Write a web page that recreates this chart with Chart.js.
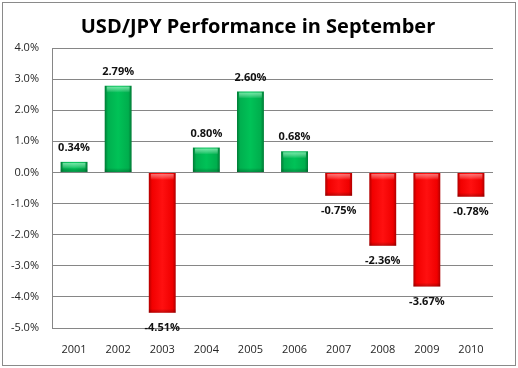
<!DOCTYPE html>
<html><head><meta charset="utf-8">
<script src="https://cdn.jsdelivr.net/npm/chart.js@4"></script>
<style>html,body{margin:0;padding:0;background:#fff}#wrap{width:518px;height:368px;position:relative}</style>
</head><body><div id="wrap"><canvas id="c" width="518" height="368"></canvas></div>
<script>
const years = ['2001','2002','2003','2004','2005','2006','2007','2008','2009','2010'];
const perf = [0.34, 2.79, -4.51, 0.80, 2.60, 0.68, -0.75, -2.36, -3.67, -0.78];
const yMin = -5, yMax = 4, yStep = 1;
const titleText = 'USD/JPY Performance in September';

const FONT = "'Open Sans', 'Liberation Sans', sans-serif";
const BAR_PCT = 0.61;

function barFill(ctx) {
  const chart = ctx.chart;
  const i = ctx.dataIndex;
  const pos = perf[i] >= 0;
  const base = pos ? '#00b050' : '#ff0000';
  if (!chart.chartArea || !chart.scales.x) return base;
  const xs = chart.scales.x;
  const cx = xs.getPixelForValue(i);
  const hw = (xs.width / years.length) * BAR_PCT / 2;
  const g = chart.ctx.createLinearGradient(cx - hw, 0, cx + hw, 0);
  if (pos) {
    g.addColorStop(0, '#007a35');
    g.addColorStop(0.12, '#00b04f');
    g.addColorStop(0.5, '#00c257');
    g.addColorStop(0.88, '#00ae4d');
    g.addColorStop(1, '#007a35');
  } else {
    g.addColorStop(0, '#b00000');
    g.addColorStop(0.12, '#f20000');
    g.addColorStop(0.5, '#ff1010');
    g.addColorStop(0.88, '#f00000');
    g.addColorStop(1, '#b00000');
  }
  return g;
}

const frameAndLabels = {
  id: 'frameAndLabels',
  beforeDraw(chart) {
    const c = chart.ctx;
    c.save();
    c.fillStyle = '#fff';
    c.fillRect(0, 0, chart.width, chart.height);
    c.strokeStyle = '#8a8a8a';
    c.lineWidth = 1;
    c.strokeRect(2.5, 2.5, 513, 363);
    c.fillStyle = '#000';
    c.font = 'bold 20px ' + FONT;
    c.textAlign = 'center';
    c.textBaseline = 'middle';
    c.fillText(titleText, 258, 27);
    c.restore();
  },
  afterDatasetsDraw(chart) {
    const c = chart.ctx;
    const meta = chart.getDatasetMeta(0);
    c.save();
    meta.data.forEach((bar, i) => {
      const pos = perf[i] >= 0;
      const top = Math.min(bar.y, bar.base);
      const left = bar.x - bar.width / 2;
      const hl = c.createLinearGradient(0, top, 0, top + 7);
      hl.addColorStop(0, pos ? 'rgba(160,255,200,0.75)' : 'rgba(255,170,170,0.7)');
      hl.addColorStop(1, 'rgba(255,255,255,0)');
      c.fillStyle = hl;
      c.fillRect(left + 2, top + 1, bar.width - 4, 6);
      const bottom = Math.max(bar.y, bar.base);
      const sh = c.createLinearGradient(0, bottom - 4, 0, bottom);
      sh.addColorStop(0, 'rgba(0,0,0,0)');
      sh.addColorStop(1, 'rgba(0,0,0,0.25)');
      c.fillStyle = sh;
      c.fillRect(left, bottom - 4, bar.width, 4);
    });
    c.fillStyle = '#111';
    c.font = 'bold 11px ' + FONT;
    c.textAlign = 'center';
    c.textBaseline = 'middle';
    meta.data.forEach((bar, i) => {
      const v = perf[i];
      const y = v >= 0 ? bar.y - 14 : bar.y + 15;
      c.fillText(v.toFixed(2) + '%', bar.x, y);
    });
    c.restore();
  }
};

new Chart(document.getElementById('c'), {
  type: 'bar',
  data: {
    labels: years,
    datasets: [{
      data: perf,
      backgroundColor: barFill,
      borderWidth: 0,
      categoryPercentage: 1,
      barPercentage: BAR_PCT
    }]
  },
  options: {
    responsive: false,
    animation: false,
    devicePixelRatio: 1,
    layout: { padding: { left: 0, right: 25, top: 48, bottom: 0 } },
    plugins: {
      legend: { display: false },
      tooltip: { enabled: false },
      title: { display: false }
    },
    scales: {
      x: {
        grid: { display: false, drawTicks: false },
        border: { display: false },
        ticks: { color: '#262626', font: { family: FONT, size: 11 }, padding: 15, maxRotation: 0 },
        afterFit(s) { s.height = 40; }
      },
      y: {
        min: yMin, max: yMax,
        grid: { color: '#868686', lineWidth: 1, drawTicks: false },
        border: { display: true, color: '#868686', width: 1 },
        ticks: {
          stepSize: yStep,
          color: '#262626',
          font: { family: FONT, size: 11 },
          padding: 13,
          callback: v => v.toFixed(1) + '%'
        },
        afterFit(s) { s.width = 52; }
      }
    }
  },
  plugins: [frameAndLabels]
});
</script>
</body></html>
